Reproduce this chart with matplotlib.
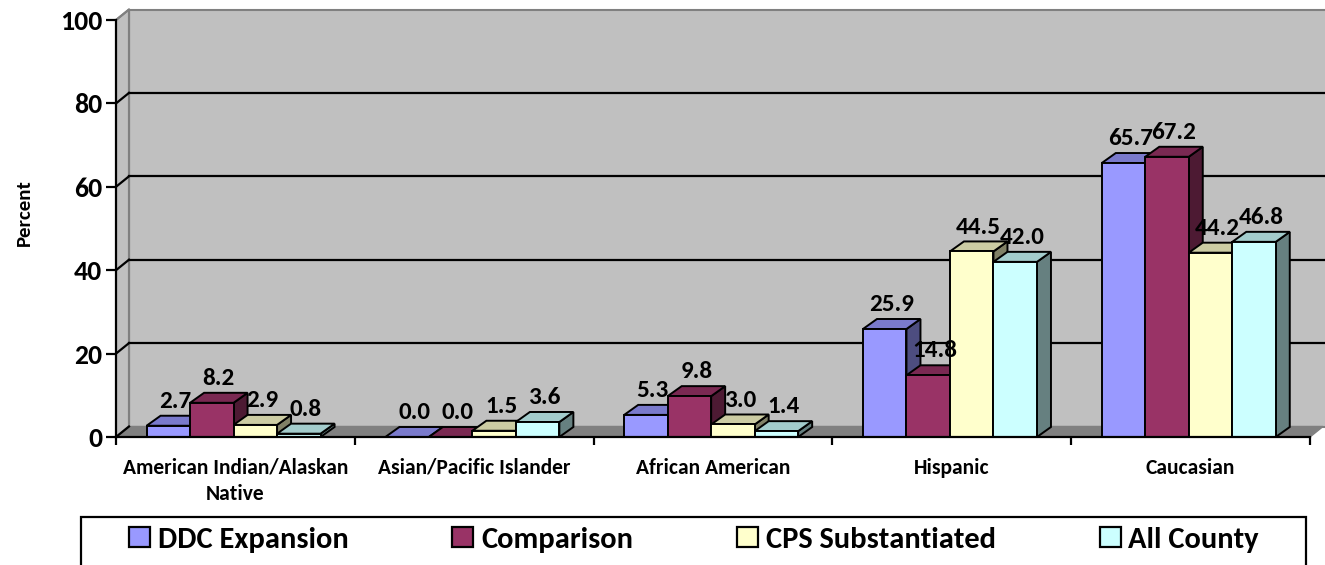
import matplotlib
matplotlib.use("Agg")
import matplotlib.pyplot as plt
from matplotlib.patches import Polygon, Rectangle, Patch
import numpy as np

plt.rcParams['font.family'] = ['Carlito', 'DejaVu Sans']
plt.rcParams['font.weight'] = 'bold'

categories = ["American Indian/Alaskan\nNative", "Asian/Pacific Islander",
              "African American", "Hispanic", "Caucasian"]
series = ["DDC Expansion", "Comparison", "CPS Substantiated", "All County"]
ddc = [2.7, 0.0, 5.3, 25.9, 65.7]
comparison = [8.2, 0.0, 9.8, 14.8, 67.2]
cps = [2.9, 1.5, 3.0, 44.5, 44.2]
all_county = [0.8, 3.6, 1.4, 42.0, 46.8]
yticks = [0, 20, 40, 60, 80, 100]

values = [ddc, comparison, cps, all_county]
front_colors = ["#9999FF", "#993366", "#FFFFCC", "#CCFFFF"]

def shade(hexc, f):
    c = np.array(matplotlib.colors.to_rgb(hexc)) * f
    return tuple(np.clip(c, 0, 1))

W, H = 1325, 565
fig = plt.figure(figsize=(W / 100, H / 100), dpi=100)

# axes geometry (pixels)
ax_left, ax_right = 116, 1325
ax_bottom_px, ax_top_px = 437, 5
ppu_y = 4.17
ppc_x = (1310 - 116) / 5.0
ax = fig.add_axes([ax_left / W, (H - ax_bottom_px) / H,
                   (ax_right - ax_left) / W, (ax_bottom_px - ax_top_px) / H])
ax.set_xlim(0, (ax_right - ax_left) / ppc_x)
ax.set_ylim(0, (ax_bottom_px - ax_top_px) / ppu_y)
ncat = len(categories)

# depth offsets in data units
wdx, wdy = 13 / ppc_x, 10.5 / ppu_y
bdx, bdy = 14 / ppc_x, 10 / ppu_y

# floor
ax.add_patch(Polygon([(0, 0), (ncat, 0), (ncat + wdx, wdy), (wdx, wdy)],
                     closed=True, facecolor="#808080", edgecolor="#808080", lw=1, zorder=1))
# back wall
ax.add_patch(Rectangle((wdx, wdy), ncat + 1, 100, facecolor="#C0C0C0",
                       edgecolor="#808080", lw=1.5, zorder=0.5))
# left wall
ax.add_patch(Polygon([(0, 0), (wdx, wdy), (wdx, 100 + wdy), (0, 100)], closed=True,
                     facecolor="#C0C0C0", edgecolor="#808080", lw=1.5, zorder=1))
ax.plot([wdx, wdx], [wdy, 100 + wdy], color="#808080", lw=1.5, zorder=1.1)
# gridlines
for v in yticks[1:-1]:
    ax.plot([wdx, ncat + 1], [v + wdy, v + wdy], color="black", lw=1.6, zorder=1.2)
for v in yticks[:-1]:
    ax.plot([0, wdx], [v, v + wdy], color="black", lw=1.6, zorder=1.2)
ax.plot([0, wdx], [100, 100 + wdy], color="#808080", lw=1.5, zorder=1.2)

# bars
bw = 43.5 / ppc_x
off = 0.128
z = 3
for i in range(ncat):
    for j, vals in enumerate(values):
        v = vals[i]
        x0 = i + off + j * bw
        fc = front_colors[j]
        # side face
        ax.add_patch(Polygon([(x0 + bw, 0), (x0 + bw + bdx, bdy), (x0 + bw + bdx, v + bdy), (x0 + bw, v)],
                             closed=True, facecolor=shade(fc, 0.5), edgecolor="black", lw=1.4,
                             joinstyle="miter", zorder=z))
        # top face
        ax.add_patch(Polygon([(x0, v), (x0 + bw, v), (x0 + bw + bdx, v + bdy), (x0 + bdx, v + bdy)],
                             closed=True, facecolor=shade(fc, 0.8), edgecolor="black", lw=1.4,
                             joinstyle="miter", zorder=z + 0.1))
        # front face
        if v > 0:
            ax.add_patch(Rectangle((x0, 0), bw, v, facecolor=fc, edgecolor="black", lw=1.4,
                                   joinstyle="miter", zorder=z + 0.2))
        ax.text(x0 + bw / 2 + bdx / 2, v + bdy + 1.9, f"{v:.1f}", ha="center", va="baseline",
                fontsize=18, fontweight="bold", zorder=50)
        z += 1

# axes styling
for s in ["top", "right"]:
    ax.spines[s].set_visible(False)
ax.spines["left"].set_bounds(0, 100)
ax.spines["bottom"].set_bounds(0, ncat)
ax.spines["left"].set_linewidth(1.6)
ax.spines["bottom"].set_linewidth(1.6)
ax.spines["left"].set_zorder(100)
ax.spines["bottom"].set_zorder(100)
ax.set_yticks(yticks)
ax.set_yticklabels([str(t) for t in yticks])
ax.tick_params(axis="y", length=7, width=1.6, pad=3, labelsize=20)
ax.set_xticks(np.arange(ncat + 1))
ax.set_xticklabels([""] * (ncat + 1))
ax.tick_params(axis="x", which="major", length=6, width=1.6)
ax.set_xticks(np.arange(ncat) + 0.5, minor=True)
ax.set_xticklabels(categories, minor=True)
ax.tick_params(axis="x", which="minor", length=0, pad=15, labelsize=15.5)
for lab in ax.get_xticklabels(minor=True):
    lab.set_linespacing(1.4)
    lab.set_fontweight("bold")
for lab in ax.get_yticklabels():
    lab.set_fontweight("bold")
ax.set_facecolor("none")

fig.text(24 / W, 1 - 213 / H, "Percent", rotation=90, ha="center", va="center",
         fontsize=15, fontweight="bold")

# legend
fig.patches.append(Rectangle((81 / W, (H - 575) / H), (1306 - 81) / W, (575 - 517) / H,
                             transform=fig.transFigure, facecolor="white", edgecolor="black",
                             lw=1.6, figure=fig))
handles = [Patch(facecolor=c, edgecolor="black", lw=1.6) for c in front_colors]
leg = fig.legend(handles, series, loc="center", bbox_to_anchor=(694 / W, 1 - 540 / H),
                 ncol=4, frameon=False, handlelength=0.69, handleheight=0.65,
                 handletextpad=0.25, columnspacing=3.4, prop={"weight": "bold", "size": 22})

fig.savefig("out.png", dpi=100)
